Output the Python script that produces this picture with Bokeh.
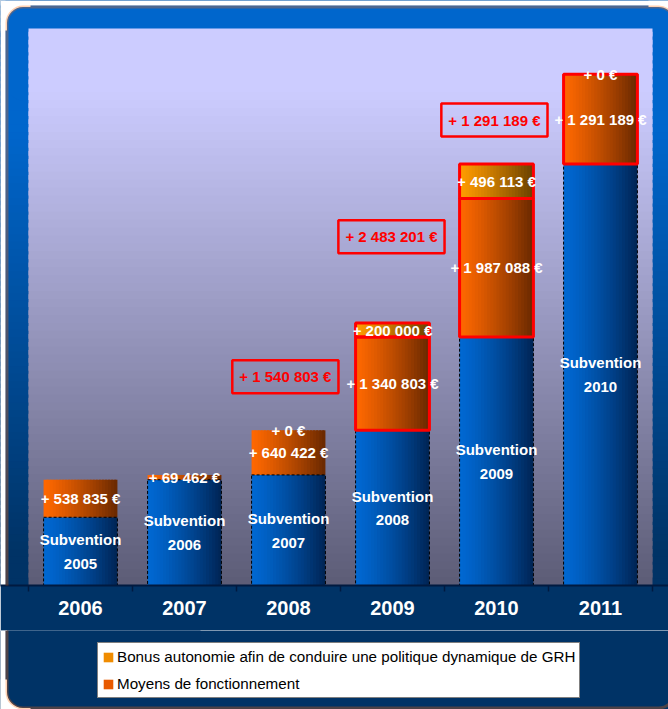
from bokeh.plotting import figure
from bokeh.layouts import column
from bokeh.models import Range1d, FixedTicker, BoxAnnotation, Label, Legend, LegendItem
from bokeh.core.properties import value
from bokeh.embed import file_html
from bokeh.resources import INLINE

# ---------------- data ----------------
years = ["2006", "2007", "2008", "2009", "2010", "2011"]
subvention_labels = ["Subvention\n2005", "Subvention\n2006", "Subvention\n2007",
                     "Subvention\n2008", "Subvention\n2009", "Subvention\n2010"]
subvention = [980000, 1518835, 1588297, 2228719, 3569522, 6052723]
moyens = [538835, 69462, 640422, 1340803, 1987088, 1291189]
bonus = [None, None, 0, 200000, 496113, 0]
callout_totals = [1540803, 2483201, 1291189]
legend_labels = ["Bonus autonomie afin de conduire une politique dynamique de GRH",
                 "Moyens de fonctionnement"]

# ---------------- styles / layout ----------------
FONT = "Liberation Sans"
NAVY = "#003366"
ORANGE_LINE = "#ff6600"
highlighted = [False, False, False, True, True, True]
callout_pos = [(2.47, 3000000), (3.49, 5010000), (4.48, 6685000)]
BAR_W = 0.71
N = 24
YMAX = 8000000
W, H = 668, 709
AXIS_H = 45
H1 = 585 + AXIS_H
H2 = H - H1
PL, PR, PT, PB = 28, 652, 28, 585          # plot area in canvas px
XPX = (PR - PL) / 6.0
YPX = (PB - PT) / YMAX
x_lo = -PL / XPX
x_hi = 6 + (W - PR) / XPX
y_hi = YMAX + PT / YPX

def fmt(v):
    return "+ " + f"{int(v):,}".replace(",", " ") + " \u20ac"

def lerp(c0, c1, t):
    t = max(0.0, min(1.0, t))
    return "#%02x%02x%02x" % tuple(int(round(a + (b - a) * t)) for a, b in zip(c0, c1))

def canvas_y(yd):
    return (y_hi - yd) * YPX

def canvas_box(**kw):
    return BoxAnnotation(left_units="canvas", right_units="canvas", top_units="canvas",
                         bottom_units="canvas", **kw)

p = figure(width=W, height=H1, x_range=Range1d(x_lo, x_hi), y_range=Range1d(0, y_hi),
           y_axis_location=None, output_backend="svg", toolbar_location=None,
           min_border_left=0, min_border_right=0, min_border_top=0, min_border_bottom=AXIS_H,
           border_fill_color=NAVY, background_fill_color=NAVY)
p.outline_line_color = None
p.grid.visible = False

# ---------------- outer frame gradient ----------------
nf = 80
fr_top, fr_bot = (0, 102, 204), (0, 51, 102)
fl, fr, fb, ft, fc = [], [], [], [], []
for k in range(nf):
    y0, y1 = y_hi * k / nf, y_hi * (k + 1) / nf
    fb.append(y0); ft.append(y_hi * (k + 1.6) / nf)
    fl.append(x_lo); fr.append(x_hi)
    fc.append(lerp(fr_top, fr_bot, (canvas_y((y0 + y1) / 2) - 130) / 420))
p.quad(left=fl, right=fr, bottom=fb, top=ft, fill_color=fc, line_color=None, level="image")

for kw in (dict(left=0, right=5, top=0, bottom=H1), dict(left=0, right=W, top=0, bottom=5),
           dict(left=0, right=30, top=0, bottom=30), dict(left=W - 20, right=W, top=0, bottom=20)):
    p.add_layout(canvas_box(fill_color="white", fill_alpha=1, line_color=None, level="image", **kw))
p.add_layout(canvas_box(left=6.5, right=W + 6, top=6.5, bottom=100, fill_color="#0066cc", fill_alpha=1,
                        line_color=None, border_radius=16, level="image"))

# ---------------- plot area gradient ----------------
nb = 70
bg_top, bg_bot = (204, 204, 255), (92, 92, 118)
bl, br, bb, bt, bc = [], [], [], [], []
for k in range(nb):
    y0, y1 = YMAX * k / nb, YMAX * (k + 1) / nb
    bb.append(y0); bt.append(min(YMAX, YMAX * (k + 1.6) / nb))
    bl.append(0); br.append(6)
    bc.append(lerp(bg_top, bg_bot, (canvas_y((y0 + y1) / 2) - 90) / (PB - 90)))
p.quad(left=bl, right=br, bottom=bb, top=bt, fill_color=bc, line_color=None, level="underlay")

# ---------------- bars ----------------
centers = [i + 0.5 for i in range(len(years))]
sub_bot = [0] * len(years)
sub_top = subvention
moy_bot = subvention
moy_top = [s + m for s, m in zip(subvention, moyens)]
bon_bot = moy_top
bon_top = [mt + (b or 0) for mt, b in zip(moy_top, bonus)]

def gradient(bots, tops, c0, c1, gamma=1.0):
    L, R, B, T, C = [], [], [], [], []
    for cx, b, t in zip(centers, bots, tops):
        if t - b <= 0:
            continue
        x0 = cx - BAR_W / 2
        for k in range(N):
            L.append(x0 + BAR_W * k / N)
            R.append(x0 + BAR_W * min(N, k + 1.6) / N)
            B.append(b); T.append(t)
            C.append(lerp(c0, c1, ((k + 0.5) / N) ** gamma))
    p.quad(left=L, right=R, bottom=B, top=T, fill_color=C, line_color=None)

gradient(sub_bot, sub_top, (0, 104, 210), (0, 36, 84), 1.3)
gradient(moy_bot, moy_top, (255, 104, 0), (104, 40, 0), 1.2)
gradient(bon_bot, bon_top, (255, 155, 0), (104, 64, 0), 1.2)

# outlines
p.quad(left=[c - BAR_W / 2 for c in centers], right=[c + BAR_W / 2 for c in centers],
       bottom=sub_bot, top=sub_top, fill_color=None, line_color="black", line_dash="3 2", line_width=1)
hl = [i for i in range(len(years)) if highlighted[i]]
p.quad(left=[centers[i] - BAR_W / 2 for i in hl], right=[centers[i] + BAR_W / 2 for i in hl],
       bottom=[moy_bot[i] for i in hl], top=[moy_top[i] for i in hl],
       fill_color=None, line_color="#ff0000", line_width=3)
hb = [i for i in hl if bonus[i]]
p.quad(left=[centers[i] - BAR_W / 2 for i in hb], right=[centers[i] + BAR_W / 2 for i in hb],
       bottom=[bon_bot[i] for i in hb], top=[bon_top[i] for i in hb],
       fill_color=None, line_color="#ff0000", line_width=3)

# ---------------- labels ----------------
tx, ty, tt = [], [], []
for i in range(len(years)):
    tx.append(centers[i]); ty.append((sub_bot[i] + sub_top[i]) / 2); tt.append(subvention_labels[i])
    tx.append(centers[i]); ty.append((moy_bot[i] + moy_top[i]) / 2); tt.append(fmt(moyens[i]))
    if bonus[i] is not None:
        tx.append(centers[i]); ty.append((bon_bot[i] + bon_top[i]) / 2); tt.append(fmt(bonus[i]))
p.text(x=tx, y=ty, text=tt, text_color="white", text_font=value(FONT), text_font_style="bold",
       text_font_size="15px", text_align="center", text_baseline="middle", text_line_height=1.4)

for (cx, cy), v in zip(callout_pos, callout_totals):
    p.add_layout(Label(x=cx, y=cy, text=fmt(v), text_color="#ff0000", text_font=FONT,
                       text_font_style="bold", text_font_size="15px", text_align="center",
                       text_baseline="middle", border_line_color="#ff0000", border_line_width=2.5,
                       background_fill_color=None,
                       padding=dict(left=7, right=7, top=8, bottom=8)))

# ---------------- axis ----------------
ax = p.xaxis[0]
ax.ticker = FixedTicker(ticks=centers, minor_ticks=list(range(len(years) + 1)))
ax.major_label_overrides = {c: y for c, y in zip(centers, years)}
ax.axis_line_color = "#001a40"
ax.axis_line_width = 2
ax.major_tick_line_color = None
ax.major_tick_out = 0
ax.major_tick_in = 0
ax.minor_tick_line_color = "#001a40"
ax.minor_tick_line_width = 1.5
ax.minor_tick_out = 6
ax.minor_tick_in = 0
ax.major_label_standoff = 9
ax.major_label_text_color = "white"
ax.major_label_text_font = FONT
ax.major_label_text_font_style = "bold"
ax.major_label_text_font_size = "20px"

# orange rounded border (top part)
p.add_layout(canvas_box(left=6.5, top=6.5, right=W + 6, bottom=H1 + 200,
                        fill_color=None, line_color=ORANGE_LINE, line_width=3, border_radius=16,
                        level="overlay"))

# ---------------- legend strip (second figure) ----------------
p2 = figure(width=W, height=H2, x_range=Range1d(0, W), y_range=Range1d(0, H2),
            x_axis_location=None, y_axis_location=None, output_backend="svg", toolbar_location=None,
            min_border=0, border_fill_color=NAVY, background_fill_color=NAVY)
p2.outline_line_color = None
p2.grid.visible = False
p2.add_layout(canvas_box(left=0, right=5, top=0, bottom=H2, fill_color="white", fill_alpha=1,
                         line_color=None, level="image"))
p2.add_layout(canvas_box(left=0, right=30, top=H2 - 30, bottom=H2, fill_color="white", fill_alpha=1,
                         line_color=None, level="image"))
p2.add_layout(canvas_box(left=6.5, right=200, top=-200, bottom=H2 - 1.5, fill_color=NAVY, fill_alpha=1,
                         line_color=None, border_radius=16, level="image"))
p2.add_layout(canvas_box(left=6.5, right=W + 6, top=-200, bottom=H2 - 1.5, fill_color=None,
                         line_color=ORANGE_LINE, line_width=3, border_radius=16, level="overlay"))

r_bonus = p2.quad(left=[-60], right=[-50], bottom=[-60], top=[-50], fill_color="#f08c00", line_color=None)
r_moy = p2.quad(left=[-60], right=[-50], bottom=[-60], top=[-50], fill_color="#e85a00", line_color=None)
legend = Legend(items=[LegendItem(label=legend_labels[0], renderers=[r_bonus]),
                       LegendItem(label=legend_labels[1], renderers=[r_moy])],
                location=(97, 11), label_text_font=FONT, label_text_font_size="15.2px",
                label_text_color="black", glyph_width=12, glyph_height=12, label_standoff=3,
                padding=4, spacing=8, label_height=19, border_line_color="black",
                border_line_width=1, background_fill_color="white", background_fill_alpha=1,
                margin=0)
p2.add_layout(legend)

layout = column(p, p2, spacing=0)
open("out.html", "w").write(file_html(layout, INLINE))
